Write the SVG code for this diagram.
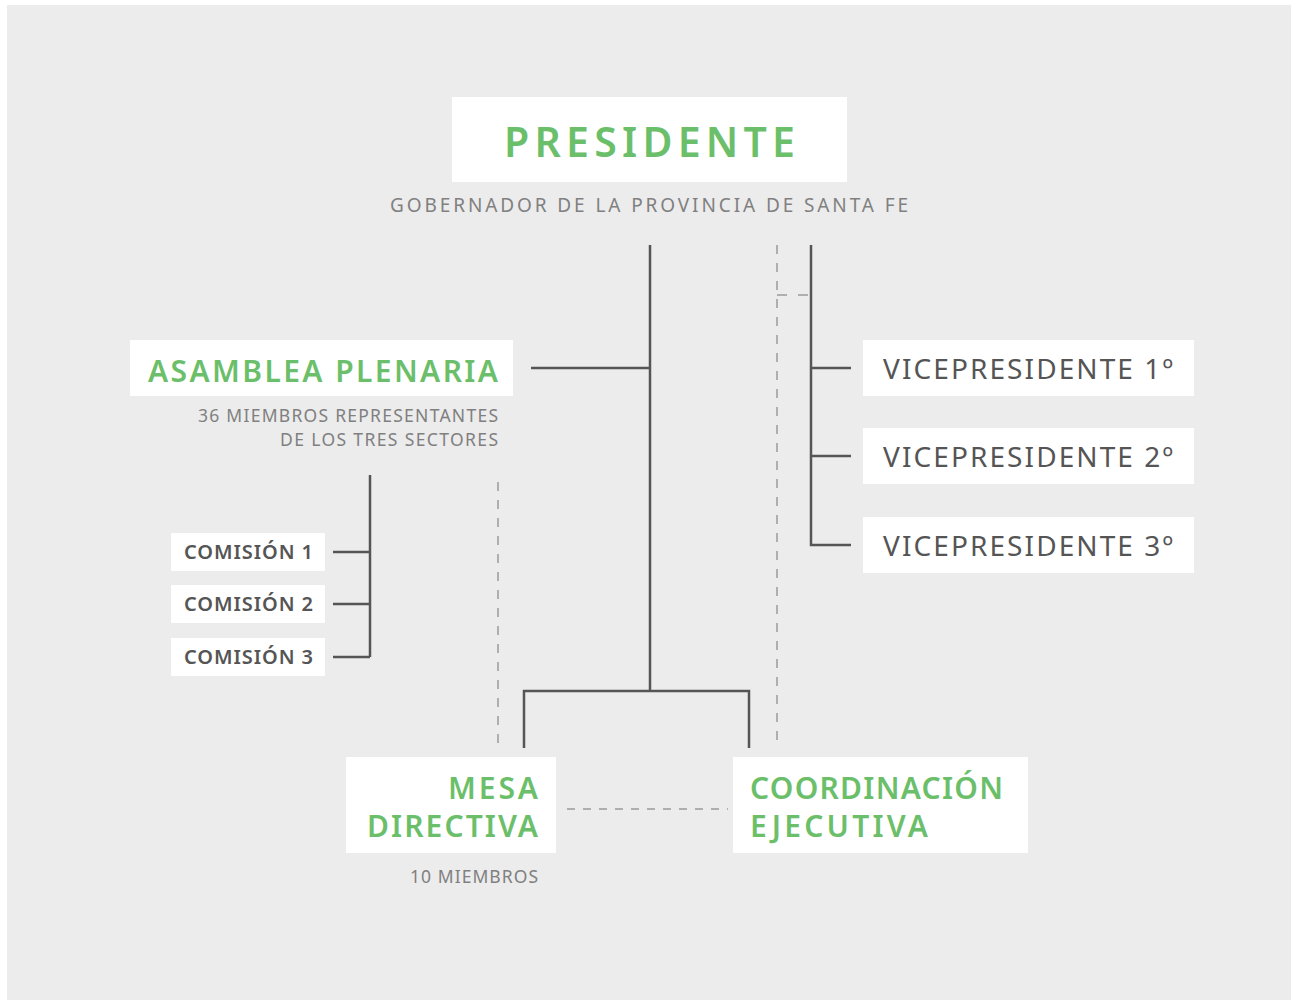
<svg xmlns="http://www.w3.org/2000/svg" width="1291" height="1000" viewBox="0 0 1291 1000">
<style>
.box{fill:#ffffff}
.g{fill:#6cbf6a;font-family:"Noto Sans","Open Sans",sans-serif;font-weight:600}
.d{fill:#555555;font-family:"Noto Sans","Open Sans",sans-serif}
.s{fill:#808080;font-family:"Noto Sans","Open Sans",sans-serif}
.ln{stroke:#555555;stroke-width:2.5;fill:none}
.dl{stroke:#9a9a9a;stroke-width:1.5;fill:none;stroke-dasharray:9 9}
</style>
<rect x="0" y="0" width="1291" height="1000" fill="#ffffff"/>
<rect x="7" y="5" width="1284" height="995" fill="#ececec"/>
<g id="connectors">
<path class="ln" d="M650 245V691M524 748V691H749V748M531 368H650"/>
<path class="ln" d="M370 475V657M333 552H370M333 604H370M333 657H370"/>
<path class="ln" d="M811 245V545H851M811 368H851M811 456H851"/>
<path class="dl" d="M777 245V748"/>
<path class="dl" d="M777 295H811" style="stroke-dasharray:10 11"/>
<path class="dl" d="M498 482V748"/>
<path class="dl" d="M567 809H728" style="stroke-dasharray:8 8"/>
</g>
<g id="presidente">
<rect class="box" x="452" y="97" width="395" height="85"/>
<text class="g" x="504" y="157" font-size="41" textLength="291" lengthAdjust="spacing">PRESIDENTE</text>
<text class="s" x="390" y="212" font-size="19" textLength="518" lengthAdjust="spacing">GOBERNADOR DE LA PROVINCIA DE SANTA FE</text>
</g>
<g id="asamblea">
<rect class="box" x="130" y="340" width="383" height="56"/>
<text class="g" x="148" y="382" font-size="30" textLength="350" lengthAdjust="spacing">ASAMBLEA PLENARIA</text>
<text class="s" x="198" y="422" font-size="17.5" textLength="300" lengthAdjust="spacing">36 MIEMBROS REPRESENTANTES</text>
<text class="s" x="280" y="446" font-size="17.5" textLength="218" lengthAdjust="spacing">DE LOS TRES SECTORES</text>
</g>
<g id="comision1">
<rect class="box" x="171" y="533" width="154" height="38"/>
<text class="d" x="184" y="559" font-size="20" font-weight="600" textLength="129" lengthAdjust="spacing">COMISIÓN 1</text>
</g>
<g id="comision2">
<rect class="box" x="171" y="585" width="154" height="38"/>
<text class="d" x="184" y="611" font-size="20" font-weight="600" textLength="129" lengthAdjust="spacing">COMISIÓN 2</text>
</g>
<g id="comision3">
<rect class="box" x="171" y="638" width="154" height="38"/>
<text class="d" x="184" y="664" font-size="20" font-weight="600" textLength="129" lengthAdjust="spacing">COMISIÓN 3</text>
</g>
<g id="vp1">
<rect class="box" x="863" y="340" width="331" height="56"/>
<text class="d" x="883" y="379" font-size="28" textLength="290" lengthAdjust="spacing">VICEPRESIDENTE 1º</text>
</g>
<g id="vp2">
<rect class="box" x="863" y="428" width="331" height="56"/>
<text class="d" x="883" y="467" font-size="28" textLength="290" lengthAdjust="spacing">VICEPRESIDENTE 2º</text>
</g>
<g id="vp3">
<rect class="box" x="863" y="517" width="331" height="56"/>
<text class="d" x="883" y="556" font-size="28" textLength="290" lengthAdjust="spacing">VICEPRESIDENTE 3º</text>
</g>
<g id="mesa">
<rect class="box" x="346" y="757" width="210" height="96"/>
<text class="g" x="448" y="799" font-size="30" textLength="90" lengthAdjust="spacing">MESA</text>
<text class="g" x="367" y="837" font-size="30" textLength="171" lengthAdjust="spacing">DIRECTIVA</text>
<text class="s" x="410" y="883" font-size="17.5" textLength="128" lengthAdjust="spacing">10 MIEMBROS</text>
</g>
<g id="coordinacion">
<rect class="box" x="733" y="757" width="295" height="96"/>
<text class="g" x="750" y="799" font-size="30" textLength="253" lengthAdjust="spacing">COORDINACIÓN</text>
<text class="g" x="750" y="837" font-size="30" textLength="178" lengthAdjust="spacing">EJECUTIVA</text>
</g>
</svg>
